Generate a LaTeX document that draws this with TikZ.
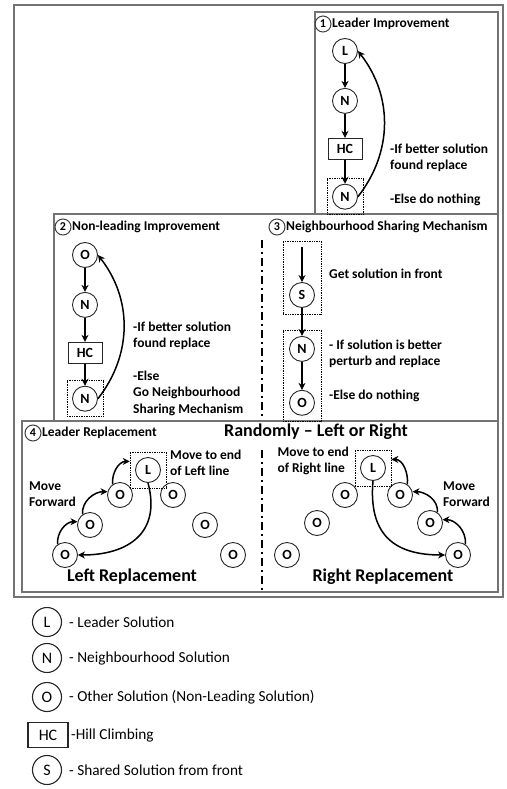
\documentclass[tikz,border=0pt]{standalone}
\usepackage{fontspec}
\setmainfont{Carlito}
\usetikzlibrary{positioning,fit,arrows.meta}

\begin{document}
\begin{tikzpicture}[
    x=1pt, y=1pt,
    node distance=24pt,
    sol/.style={circle, draw=black!85, line width=0.9pt, minimum size=25pt, inner sep=0pt, font=\bfseries\fontsize{14}{14}\selectfont},
    hcbox/.style={rectangle, draw=black!85, line width=0.9pt, minimum width=34pt, minimum height=21pt, inner sep=0pt, font=\bfseries\fontsize{14}{14}\selectfont},
    dotbox/.style={draw, densely dotted, line width=0.7pt, inner sep=5pt},
    panel/.style={draw=black!55, line width=1.4pt},
    num/.style={circle, draw=black!75, line width=1pt, minimum size=16pt, inner sep=0pt, font=\bfseries\fontsize{12}{12}\selectfont},
    title/.style={anchor=west, inner sep=0.5pt, font=\bfseries\fontsize{13.5}{13.5}\selectfont},
    note/.style={align=left, inner sep=1pt, font=\bfseries\fontsize{13.5}{16.5}\selectfont},
    big/.style={font=\bfseries\fontsize{18}{18}\selectfont},
    arr/.style={-{Stealth[length=7pt,width=7pt]}, line width=1.5pt},
    key/.style={circle, draw=black!85, line width=1.1pt, minimum size=29pt, inner sep=0pt, font=\fontsize{16}{16}\selectfont},
    keytext/.style={anchor=west, inner sep=1pt, font=\fontsize{15.3}{15.3}\selectfont}
]
\useasboundingbox (0,0) rectangle (506,-789);

% panels
\draw[panel] (14,-5) rectangle (503,-597);
\draw[panel] (315,-12) rectangle (498,-214);
\draw[panel] (54,-214) rectangle (498,-421);
\draw[panel] (22,-421) rectangle (498,-592);
\draw[line width=2pt, dash pattern=on 8pt off 4pt on 2pt off 4pt] (262,-240) -- (262,-418);
\draw[line width=2pt, dash pattern=on 8pt off 4pt on 2pt off 4pt] (262,-450) -- (262,-590);

% 1: leader improvement
\node[num] (c1) at (323,-24) {1};
\node[title, right=0pt of c1] {Leader Improvement};
\node[sol] (l1) at (345,-51) {L};
\node[sol, below=of l1] (n1) {N};
\node[hcbox, below=of n1] (hc1) {HC};
\node[sol, below=of hc1] (n2) {N};
\node[dotbox, fit=(n2)] (nb1) {};
\draw[arr] (l1) -- (n1);
\draw[arr] (n1) -- (hc1);
\draw[arr] (hc1) -- (n2);
\draw[arr] (n2.east) to[bend right=38] (l1.east);
\node[note, anchor=west] (t1) at (389,-158) {-If better solution\\found replace};
\node[note, anchor=west] (t2) at (389,-200) {-Else do nothing};

% 2: non-leading improvement
\node[num] (c2) at (63,-227) {2};
\node[title, right=0pt of c2] {Non-leading Improvement};
\node[sol] (o1) at (85,-255) {O};
\node[sol, below=of o1] (n3) {N};
\node[hcbox, below=of n3] (hc2) {HC};
\node[sol, below=22pt of hc2] (n4) {N};
\node[dotbox, fit=(n4)] (nb2) {};
\draw[arr] (o1) -- (n3);
\draw[arr] (n3) -- (hc2);
\draw[arr] (hc2) -- (n4);
\draw[arr] (n4.east) to[bend right=38] (o1.east);
\node[note, anchor=west] (t3) at (132,-336) {-If better solution\\found replace};
\node[note, anchor=west] (t4) at (132,-393) {-Else\\Go Neighbourhood\\Sharing Mechanism};

% 3: neighbourhood sharing
\node[num] (c3) at (277,-227) {3};
\node[title, right=0pt of c3] {Neighbourhood Sharing Mechanism};
\coordinate (s0) at (302,-247);
\node[sol] (s1) at (302,-295) {S};
\node[sol, below=28pt of s1] (n5) {N};
\node[sol, below=28pt of n5] (o2) {O};
\node[dotbox, inner sep=6pt, fit=(s0)(s1)] (sb) {};
\node[dotbox, inner sep=6pt, fit=(n5)(o2)] (nb3) {};
\draw[arr] (s0) -- (s1);
\draw[arr] (s1) -- (n5);
\draw[arr] (n5) -- (o2);
\node[note, anchor=west] (t5) at (328,-274) {Get solution in front};
\node[note, anchor=west] (t6) at (328,-354) {- If solution is better\\perturb and replace};
\node[note, anchor=west] (t7) at (328,-396) {-Else do nothing};

% 4: leader replacement
\node[num] (c4) at (33,-433) {4};
\node[title, right=0pt of c4] {Leader Replacement};
\node[big] (rnd) at (316,-432) {Randomly -- Left or Right};

% left line
\node[sol] (la) at (148,-470) {L};
\node[sol] (lo1) at (120,-495) {O};
\node[sol] (lo2) at (173,-495) {O};
\node[sol] (lo3) at (90,-525) {O};
\node[sol] (lo4) at (205,-525) {O};
\node[sol] (lo5) at (65,-555) {O};
\node[sol] (lo6) at (233,-555) {O};
\node[dotbox, fit=(la)] (lb) {};
\draw[arr] (lo5.125) to[out=95,in=180] (lo3.165);
\draw[arr] (lo3.125) to[out=95,in=180] (lo1.165);
\draw[arr] (lo1.125) to[out=95,in=180] (lb.155);
\draw[arr] (la.south) to[out=-75,in=0,looseness=1.3] (lo5.east);
\node[note, anchor=west] (t8) at (169,-463) {Move to end\\of Left line};
\node[note, anchor=west] (t9) at (28,-494) {Move\\Forward};
\node[big] (t10) at (132,-577) {Left Replacement};

% right line
\node[sol] (ra) at (373,-468) {L};
\node[sol] (ro1) at (400,-495) {O};
\node[sol] (ro2) at (345,-495) {O};
\node[sol] (ro3) at (430,-523) {O};
\node[sol] (ro4) at (317,-523) {O};
\node[sol] (ro5) at (458,-555) {O};
\node[sol] (ro6) at (287,-555) {O};
\node[dotbox, fit=(ra)] (rb) {};
\draw[arr] (ro5.55) to[out=85,in=0] (ro3.15);
\draw[arr] (ro3.55) to[out=85,in=0] (ro1.15);
\draw[arr] (ro1.55) to[out=85,in=0] (rb.25);
\draw[arr] (ra.south) to[out=-95,in=180,looseness=1.3] (ro5.west);
\node[note, anchor=east] (t11) at (350,-461) {Move to end\\of Right line};
\node[note, anchor=west] (t12) at (442,-494) {Move\\Forward};
\node[big] (t13) at (383,-577) {Right Replacement};

% key
\node[key] (kl) at (47,-622) {L};
\node[key] (kn) at (47,-658) {N};
\node[key] (ko) at (47,-697) {O};
\node[rectangle, draw=black!85, line width=1.1pt, minimum width=40pt, minimum height=25pt, inner sep=0pt, font=\fontsize{16}{16}\selectfont] (khc) at (48,-735) {HC};
\node[key] (ks) at (47,-770) {S};
\node[keytext] at (68,-622) {- Leader Solution};
\node[keytext] at (68,-658) {- Neighbourhood Solution};
\node[keytext] at (68,-697) {- Other Solution (Non-Leading Solution)};
\node[keytext] at (70,-735) {-Hill Climbing};
\node[keytext] at (68,-770) {- Shared Solution from front};

\end{tikzpicture}
\end{document}
